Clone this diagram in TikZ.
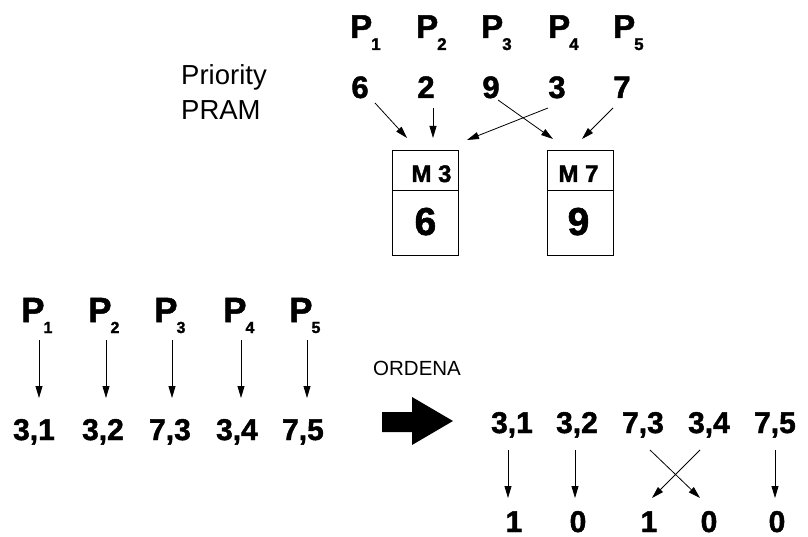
\documentclass[tikz,border=0pt]{standalone}
\usepackage{fontspec}
\setmainfont{Liberation Sans}[BoldFeatures={FakeBold=1.5}]
\usetikzlibrary{arrows.meta,calc}

% processor label with a lowered index
\newcommand{\pidx}[4]{\fontsize{#1}{#1}\selectfont\bfseries P\kern-1pt\raisebox{-#3pt}{\fontsize{#2}{#2}\selectfont #4}}

\begin{document}
\begin{tikzpicture}[x=1pt,y=-1pt,
		>={Triangle[length=12pt,width=7pt]},
		every node/.style={inner sep=0pt},
		val/.style={font=\fontsize{31}{31}\selectfont\bfseries, anchor=base},
		pair/.style={font=\fontsize{30}{30}\selectfont\bfseries, anchor=base},
		memhead/.style={draw, line width=0.9pt, minimum width=66pt, minimum height=40pt, anchor=north west},
		memcell/.style={draw, line width=0.9pt, minimum width=66pt, minimum height=65pt, anchor=north west},
		arr/.style={->, line width=0.8pt}]

			\useasboundingbox (0,0) rectangle (808,537);

			% concurrent write on the priority model
			\node[anchor=base west, font=\fontsize{27.5}{27.5}\selectfont] (prio) at (181,85) {Priority};
			\node[anchor=base west, font=\fontsize{27.5}{27.5}\selectfont] (pram) at (181,120) {PRAM};

			\foreach \i/\x in {1/350, 2/416, 3/481, 4/548, 5/613}
				\node[anchor=base west] (p\i) at (\x,38) {\pidx{33}{17}{12}{\i}};

			\node[val] (v1) at (360,98) {6};
			\node[val] (v2) at (426,98) {2};
			\node[val] (v3) at (491,98) {9};
			\node[val] (v4) at (557,98) {3};
			\node[val] (v5) at (622,98) {7};

			\node[memhead] (m3) at (392,150) {};
			\node[memcell] (m3c) at (392,190) {};
			\node[memhead] (m7) at (547,150) {};
			\node[memcell] (m7c) at (547,190) {};

			\node[anchor=base, font=\fontsize{24}{24}\selectfont\bfseries] at ($(m3.north)+(6,32)$) {M 3};
			\node[anchor=base, font=\fontsize{39}{39}\selectfont\bfseries] at ($(m3c.north)+(0,45)$) {6};
			\node[anchor=base, font=\fontsize{24}{24}\selectfont\bfseries] at ($(m7.north)+(-2,32)$) {M 7};
			\node[anchor=base, font=\fontsize{39}{39}\selectfont\bfseries] at ($(m7c.north)+(-2,45)$) {9};

			\draw[arr] ($(v1.base)+(15,5)$) -- ($(m3.north west)+(15,-12)$);
			\draw[arr] ($(v2.base)+(7,10)$) -- ($(m3.north west)+(41,-12)$);
			\draw[arr] ($(v4.base)+(-9,10)$) -- ($(m3.north west)+(75,-10)$);
			\draw[arr] ($(v3.base)+(7,2)$) -- ($(m7.north west)+(6,-11)$);
			\draw[arr] ($(v5.base)+(-9,10)$) -- ($(m7.north west)+(35,-11)$);

			% every processor writes (address, id)
			\foreach \i/\x in {1/21, 2/88, 3/154, 4/223, 5/289}
				\node[anchor=base west] (q\i) at (\x,322) {\pidx{35}{16}{11}{\i}};

			\node[pair] (w1) at (34,440) {3,1};
			\node[pair] (w2) at (103,440) {3,2};
			\node[pair] (w3) at (170,440) {7,3};
			\node[pair] (w4) at (237,440) {3,4};
			\node[pair] (w5) at (303,440) {7,5};

			\foreach \i in {1,...,5}
				\draw[arr] ($(q\i.base west)+(18,18)$) -- ($(q\i.base west)+(18,76)$);

			% sorting step
			\node[anchor=base west, font=\fontsize{20.5}{20.5}\selectfont] (ord) at (373,375) {ORDENA};
			\fill (382,412) -- (412,412) -- (412,397) -- (453,421) -- (412,445) -- (412,432) -- (382,432) -- cycle;

			\node[pair] (s1) at (512,433) {3,1};
			\node[pair] (s2) at (577,433) {3,2};
			\node[pair] (s3) at (643,433) {7,3};
			\node[pair] (s4) at (709,433) {3,4};
			\node[pair] (s5) at (775,433) {7,5};

			\node[pair] (b1) at (514,532) {1};
			\node[pair] (b2) at (578,532) {0};
			\node[pair] (b3) at (649,532) {1};
			\node[pair] (b4) at (709,532) {0};
			\node[pair] (b5) at (777,532) {0};

			\draw[arr] ($(s1.base)+(-4,17)$) -- ($(s1.base)+(-4,65)$);
			\draw[arr] ($(s2.base)+(-2,17)$) -- ($(s2.base)+(-2,65)$);
			\draw[arr] ($(s3.base)+(7,17)$) -- ($(s4.base)+(-9,65)$);
			\draw[arr] ($(s4.base)+(-9,17)$) -- ($(s3.base)+(9,65)$);
			\draw[arr] ($(s5.base)+(0,17)$) -- ($(s5.base)+(0,65)$);

		\end{tikzpicture}
\end{document}
